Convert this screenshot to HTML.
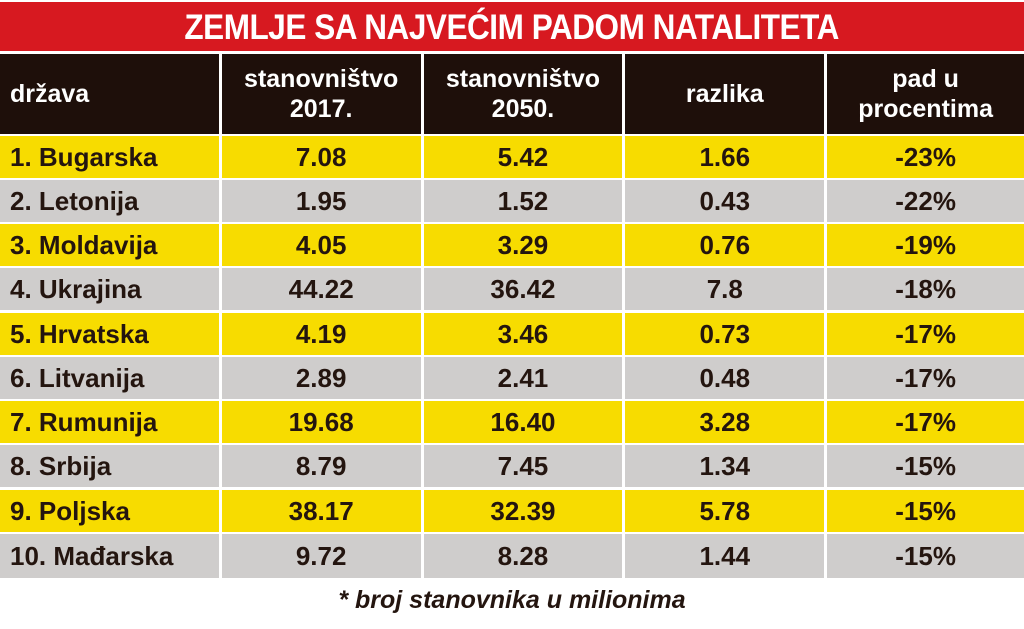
<!DOCTYPE html>
<html><head><meta charset="utf-8"><style>
body{margin:0;width:1024px;height:629px;background:#fff;font-family:"Liberation Sans",sans-serif;position:relative;overflow:hidden}
.t{position:absolute;left:0;top:2px;width:1024px;height:49px;background:#d71920;color:#fff;font-weight:bold;font-size:35px;text-align:center;line-height:51px}
.t span{display:inline-block;transform:scaleX(0.9);letter-spacing:-0.5px}
.r{position:absolute;left:0;width:1024px;display:flex}
.c{box-sizing:border-box;margin-right:3px;display:flex;align-items:center;justify-content:center;font-weight:bold;font-size:26px;color:#24150f}
.c:last-child{margin-right:0}
.c1{width:220px;justify-content:flex-start;padding-left:10px}.c2{width:200px}.c3{width:200px}.c4{width:200px}.c5{width:198px}
.h .c{background:#1e0f0a;color:#fff;text-align:center;line-height:30px;font-size:25px}
.y .c{background:#f7dc00}.g .c{background:#cfcdcc}
.f{position:absolute;top:586px;left:0;width:1024px;text-align:center;font-weight:bold;font-style:italic;font-size:25px;color:#24150f}
</style></head><body>
<div class="t"><span>ZEMLJE SA NAJVEĆIM PADOM NATALITETA</span></div>
<div class="r h" style="top:54px;height:80px"><div class="c c1">država</div><div class="c c2">stanovništvo<br>2017.</div><div class="c c3">stanovništvo<br>2050.</div><div class="c c4">razlika</div><div class="c c5">pad u<br>procentima</div></div>
<div class="r y" style="top:136px;height:42px"><div class="c c1">1. Bugarska</div><div class="c c2">7.08</div><div class="c c3">5.42</div><div class="c c4">1.66</div><div class="c c5">-23%</div></div>
<div class="r g" style="top:180px;height:42px"><div class="c c1">2. Letonija</div><div class="c c2">1.95</div><div class="c c3">1.52</div><div class="c c4">0.43</div><div class="c c5">-22%</div></div>
<div class="r y" style="top:224px;height:42px"><div class="c c1">3. Moldavija</div><div class="c c2">4.05</div><div class="c c3">3.29</div><div class="c c4">0.76</div><div class="c c5">-19%</div></div>
<div class="r g" style="top:268px;height:42px"><div class="c c1">4. Ukrajina</div><div class="c c2">44.22</div><div class="c c3">36.42</div><div class="c c4">7.8</div><div class="c c5">-18%</div></div>
<div class="r y" style="top:313px;height:42px"><div class="c c1">5. Hrvatska</div><div class="c c2">4.19</div><div class="c c3">3.46</div><div class="c c4">0.73</div><div class="c c5">-17%</div></div>
<div class="r g" style="top:357px;height:42px"><div class="c c1">6. Litvanija</div><div class="c c2">2.89</div><div class="c c3">2.41</div><div class="c c4">0.48</div><div class="c c5">-17%</div></div>
<div class="r y" style="top:401px;height:42px"><div class="c c1">7. Rumunija</div><div class="c c2">19.68</div><div class="c c3">16.40</div><div class="c c4">3.28</div><div class="c c5">-17%</div></div>
<div class="r g" style="top:445px;height:42px"><div class="c c1">8. Srbija</div><div class="c c2">8.79</div><div class="c c3">7.45</div><div class="c c4">1.34</div><div class="c c5">-15%</div></div>
<div class="r y" style="top:490px;height:42px"><div class="c c1">9. Poljska</div><div class="c c2">38.17</div><div class="c c3">32.39</div><div class="c c4">5.78</div><div class="c c5">-15%</div></div>
<div class="r g" style="top:534px;height:44px"><div class="c c1">10. Mađarska</div><div class="c c2">9.72</div><div class="c c3">8.28</div><div class="c c4">1.44</div><div class="c c5">-15%</div></div>
<div class="f">* broj stanovnika u milionima</div>
</body></html>
